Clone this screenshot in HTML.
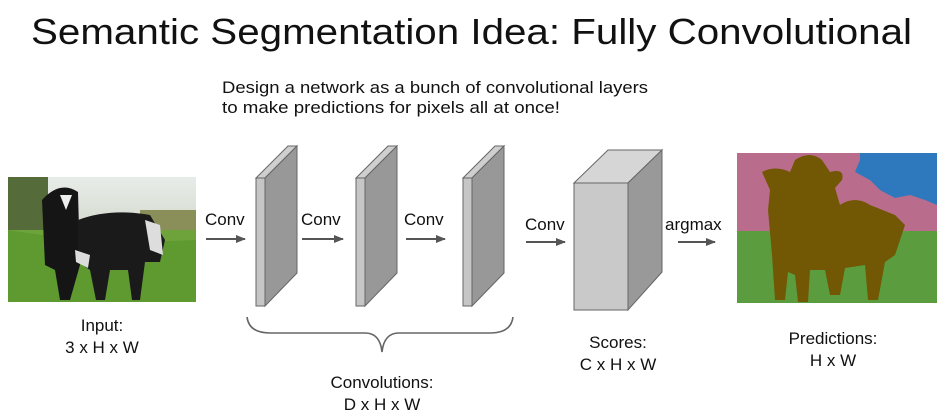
<!DOCTYPE html>
<html><head><meta charset="utf-8"><style>
html,body{margin:0;padding:0;background:#fff;}
svg{display:block;}
text{font-family:"Liberation Sans",Arial,sans-serif;fill:#111;}
</style></head><body>
<svg width="943" height="419" viewBox="0 0 943 419" xmlns="http://www.w3.org/2000/svg">
<defs>
<marker id="ah" markerWidth="10" markerHeight="8" refX="9" refY="4" orient="auto" markerUnits="userSpaceOnUse">
<path d="M0,0 L10,4 L0,8 z" fill="#555"/></marker>
<linearGradient id="sky" x1="0" y1="0" x2="0" y2="1"><stop offset="0" stop-color="#e8ece9"/><stop offset="1" stop-color="#b9c2a8"/></linearGradient>
</defs>
<text x="31" y="44" font-size="36" textLength="881" lengthAdjust="spacingAndGlyphs">Semantic Segmentation Idea: Fully Convolutional</text>
<text x="222" y="93" font-size="17" textLength="426" lengthAdjust="spacingAndGlyphs">Design a network as a bunch of convolutional layers</text>
<text x="222" y="113" font-size="17" textLength="338" lengthAdjust="spacingAndGlyphs">to  make predictions for pixels all at once!</text>

<!-- photo -->
<rect x="8" y="177" width="188" height="125" fill="url(#sky)"/>
<rect x="8" y="177" width="40" height="60" fill="#556b3a"/>
<rect x="140" y="210" width="56" height="30" fill="#8a8f5a"/>
<rect x="8" y="230" width="188" height="72" fill="#6ea33b"/>
<path d="M8,230 Q100,245 196,240 L196,302 L8,302z" fill="#5f9a30"/>
<path d="M42,200 Q60,180 78,192 L80,265 L70,300 L60,300 L55,270 L45,265 Z" fill="#151515"/>
<path d="M78,220 Q110,208 150,215 L165,240 L160,262 L145,262 L140,300 L132,300 L128,270 L110,270 L105,300 L96,300 L90,270 L78,262 Z" fill="#1a1a1a"/>
<path d="M60,195 L72,195 L66,210 Z" fill="#eee"/>
<path d="M145,220 L160,225 L163,255 L150,250 Z" fill="#ddd"/>
<path d="M75,250 L90,255 L88,268 L76,262 Z" fill="#ddd"/>

<!-- arrows -->
<g stroke="#555" stroke-width="2" fill="none" marker-end="url(#ah)">
<line x1="206" y1="239" x2="245" y2="239"/>
<line x1="302" y1="239" x2="343" y2="239"/>
<line x1="406" y1="239" x2="445" y2="239"/>
<line x1="526" y1="242" x2="565" y2="242"/>
<line x1="678" y1="242" x2="715" y2="242"/>
</g>
<text x="205" y="225" font-size="17">Conv</text>
<text x="301" y="225" font-size="17">Conv</text>
<text x="404" y="225" font-size="17">Conv</text>
<text x="525" y="230" font-size="17">Conv</text>
<text x="665" y="230" font-size="17">argmax</text>

<!-- slabs -->
<g stroke="#666" stroke-width="1">
<g>
<polygon points="256,178 265,178 297,146 288,146" fill="#cfcfcf"/>
<polygon points="265,178 297,146 297,273 265,306" fill="#989898"/>
<rect x="256" y="178" width="9" height="128" fill="#c6c6c6"/>
</g>
<g transform="translate(100,0)">
<polygon points="256,178 265,178 297,146 288,146" fill="#cfcfcf"/>
<polygon points="265,178 297,146 297,273 265,306" fill="#989898"/>
<rect x="256" y="178" width="9" height="128" fill="#c6c6c6"/>
</g>
<g transform="translate(207,0)">
<polygon points="256,178 265,178 297,146 288,146" fill="#cfcfcf"/>
<polygon points="265,178 297,146 297,273 265,306" fill="#989898"/>
<rect x="256" y="178" width="9" height="128" fill="#c6c6c6"/>
</g>
<polygon points="574,183 628,183 662,150 608,150" fill="#d6d6d6"/>
<polygon points="628,183 662,150 662,272 628,310" fill="#999"/>
<rect x="574" y="183" width="54" height="127" fill="#c9c9c9"/>
</g>

<!-- segmentation -->
<rect x="737" y="153" width="200" height="150" fill="#5b9c3e"/>
<rect x="737" y="153" width="200" height="78" fill="#b96c8c"/>
<path d="M860,153 L937,153 L937,205 L925,200 L910,195 L895,198 L880,190 L870,180 L855,172 L860,160 Z" fill="#2e79bd"/>
<path d="M762,172 Q775,165 790,172 L795,160 Q810,150 822,160 L830,172 Q845,168 842,180 L835,188 L840,205 Q855,195 870,205 L895,215 L905,225 L900,240 L895,255 L885,262 L878,300 L868,300 L865,265 L845,268 L840,295 L830,295 L825,270 L810,270 L808,302 L798,302 L795,275 L788,272 L785,300 L775,300 L772,255 L768,210 L770,190 Z" fill="#725704"/>

<!-- brace -->
<path d="M247,317 Q249,333 270,333 L365,333 Q380,333 382,352 Q384,333 399,333 L490,333 Q511,333 513,317" fill="none" stroke="#666" stroke-width="1.6"/>

<!-- labels -->
<g font-size="17" text-anchor="middle">
<text x="102" y="331">Input:</text>
<text x="102" y="353">3 x H x W</text>
<text x="382" y="388">Convolutions:</text>
<text x="382" y="410">D x H x W</text>
<text x="618" y="348">Scores:</text>
<text x="618" y="370">C x H x W</text>
<text x="833" y="344">Predictions:</text>
<text x="833" y="366">H x W</text>
</g>
</svg>
</body></html>
